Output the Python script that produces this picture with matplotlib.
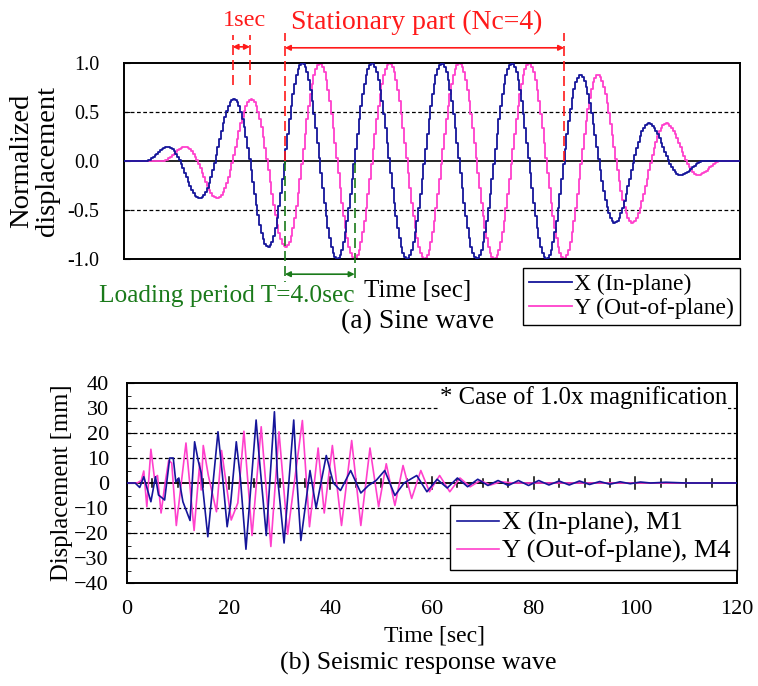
import numpy as np
import matplotlib
matplotlib.use('Agg')
import matplotlib.pyplot as plt

plt.rcParams['font.family'] = ['Liberation Serif', 'DejaVu Serif']

# ---------------- (a) Sine wave parameters ----------------
period = 4.0          # Loading period T [sec]
n_stationary = 4      # Nc
n_taper = 2           # tapered cycles before / after the stationary part
t_start = 1.22        # start of X motion [sec]
lag_y = 1.0           # Y lags X by 1 sec
dt = 0.1              # sampling step
t_axis_end = 35.3
sine_yticks = [-1.0, -0.5, 0.0, 0.5, 1.0]
sine_labels = ['X (In-plane)', 'Y (Out-of-plane)']

# ---------------- (b) Seismic response wave (extrema) ----------------
seis_x_t = [0, 1.6, 2.5, 3.3, 4.7, 5.6, 6.2, 7.4, 8.4, 9.1, 9.6, 10.2, 11.0, 12.4,
            13.3, 14.0, 14.6, 15.9, 17.9, 18.8, 19.7, 20.4, 21.5, 22.3, 23.4, 25.4,
            26.0, 27.4, 29.0, 29.6, 30.9, 32.8, 33.4, 34.2, 36.0, 37.2, 39.2, 40.6,
            42.0, 44.0, 46.0, 47.5, 49.0, 50.7, 52.7, 54.5, 57.0, 59.0, 61.0, 63.0,
            65.0, 67.0, 69.0, 71.0, 73.0, 75.0, 77.0, 79.0, 81.0, 83.0, 85.0, 87.0,
            89.0, 91.0, 93.0, 95.0, 97.0, 99.0, 101.0, 103.0, 106.0, 110.0, 120.0]
seis_x_v = [0, 0, -1.8, 2.5, -7.5, 2.5, -4.8, -6.8, 10, 10, 0.5, 2, -7.5, -15,
            16.5, 9, 4, -21.5, 20.5, 2.5, -17.5, -8, 16.5, 2, -26.5, 25.2,
            10.5, -21, 28.5, 2.5, -24, 25.2, 2, -23, 5, -10, 11, 0,
            -3, 5, -4, -1, 1, 5, -5, 0, 3, -3.5, 1.5, -2,
            2, -1.5, 1.5, -1, 1, -1, 1, -1, 1, -0.8, 0.8, -0.8,
            0.8, -0.6, 0.6, -0.5, 0.5, -0.3, 0.4, 0, 0.3, 0, 0]
seis_y_t = [0, 2.0, 2.8, 3.3, 3.9, 4.7, 5.4, 6.0, 6.7, 7.5, 8.2, 8.8, 9.7, 11.6,
            13.2, 14.3, 14.6, 15.0, 16.0, 17.6, 18.6, 19.5, 20.5, 21.8, 23.0, 24.6,
            26.4, 28.3, 29.9, 31.6, 34.5, 35.9, 37.6, 38.8, 40.4, 42.2, 44.2, 46.0,
            47.8, 49.5, 51.0, 52.7, 54.3, 56.0, 57.8, 59.5, 61.5, 63.5, 65.5, 67.5,
            69.5, 71.5, 73.5, 76.0, 80.0, 120.0]
seis_y_v = [0, 0, 1, 4.8, -9.5, 13.5, 2, 3, -12, 0, 9, 8, -17, 16,
            -19, 8, -2.8, 15, 3, -11.5, 13, 0, -14.8, -8, 20.7, -21,
            22.5, -25.4, 20.5, -20.5, 25, -17.5, 14, -12, 15, -17, 17, -17,
            14, -9.5, 7.7, -9, 7, -6.2, 5, -3.5, 3, -3.5, 2, -1.5,
            1, -0.8, 0.5, 0, 0, 0]
seis_labels = ['X (In-plane), M1', 'Y (Out-of-plane), M4']
seis_xticks = [0, 20, 40, 60, 80, 100, 120]
seis_yticks = [-40, -30, -20, -10, 0, 10, 20, 30, 40]

BLUE = '#15159A'
PINK = '#FF40CC'
RED = '#FF1A1A'
GREEN = '#1A7A1A'

W, H = 758, 686
fig = plt.figure(figsize=(W / 100, H / 100), dpi=100)


def fx(px):
    return px / W


def fy(py):
    return 1 - py / H


# ---------------- top panel ----------------
ax1 = fig.add_axes([fx(124), fy(259), (740 - 124) / W, (259 - 63) / H])
t = np.arange(0, t_axis_end + dt, dt)
tap = n_taper * period
total = (2 * n_taper + n_stationary) * period


def sine_wave(tt, t0):
    s = tt - t0
    env = np.interp(s, [0, tap, total - tap, total], [0, 1, 1, 0], left=0, right=0)
    return env * np.sin(2 * np.pi * s / period)


for yv in sine_yticks:
    if yv == 0:
        ax1.axhline(yv, color='black', lw=1.2, zorder=1)
    elif abs(yv) < 1:
        ax1.axhline(yv, color='black', lw=0.9, ls=(0, (3, 2)), zorder=1)

ax1.plot(t, sine_wave(t, t_start), color=BLUE, lw=1.3, drawstyle='steps-mid',
         label=sine_labels[0], zorder=3)
ax1.plot(t, sine_wave(t, t_start + lag_y), color=PINK, lw=1.3, drawstyle='steps-mid',
         label=sine_labels[1], zorder=2)
ax1.set_xlim(0, t_axis_end)
ax1.set_ylim(-1, 1)
ax1.set_xticks([])
ax1.set_yticks(sine_yticks)
ax1.set_yticklabels([f'{v:.1f}' for v in sine_yticks])
ax1.tick_params(axis='y', direction='in', length=4, labelsize=14.5, pad=18)
for sp in ax1.spines.values():
    sp.set_linewidth(1.4)

# annotations
t_s = t_start + tap
t_e = t_s + n_stationary * period
t_pk = t_start + 5.0
kw_red = dict(color=RED, lw=1.2, ls=(0, (6, 3)), clip_on=False, zorder=5)
ax1.plot([t_pk, t_pk], [0.78, 1.29], **kw_red)
ax1.plot([t_pk + lag_y] * 2, [0.78, 1.29], **kw_red)
ax1.plot([t_s, t_s], [0.0, 1.31], **kw_red)
ax1.plot([t_e, t_e], [0.0, 1.31], **kw_red)
ax1.annotate('', xy=(t_pk, 1.165), xytext=(t_pk + lag_y, 1.165),
             arrowprops=dict(arrowstyle='<|-|>', color=RED, lw=1.2, mutation_scale=8,
                             shrinkA=0, shrinkB=0), annotation_clip=False)
ax1.annotate('', xy=(t_s, 1.155), xytext=(t_e, 1.155),
             arrowprops=dict(arrowstyle='<|-|>', color=RED, lw=1.2, mutation_scale=8,
                             shrinkA=0, shrinkB=0), annotation_clip=False)
ax1.text(fx(244), fy(21), '1sec', color=RED, fontsize=17.5, ha='center', va='center',
         transform=fig.transFigure)
ax1.text(fx(417), fy(22), f'Stationary part (Nc={n_stationary})', color=RED,
         fontsize=20, ha='center', va='center', transform=fig.transFigure)

kw_green = dict(color=GREEN, lw=1.2, ls=(0, (6, 3)), clip_on=False, zorder=5)
ax1.plot([t_s, t_s], [0.0, -1.235], **kw_green)
ax1.plot([t_s + period] * 2, [-0.02, -1.235], **kw_green)
ax1.annotate('', xy=(t_s, -1.155), xytext=(t_s + period, -1.155),
             arrowprops=dict(arrowstyle='<|-|>', color=GREEN, lw=1.2, mutation_scale=8,
                             shrinkA=0, shrinkB=0), annotation_clip=False)
ax1.text(fx(355), fy(296), f'Loading period T={period:.1f}sec', color=GREEN,
         fontsize=18.3, ha='right', va='center', transform=fig.transFigure)

fig.text(fx(35), fy(161), 'Normalized\ndisplacement', rotation=90, ha='center',
         va='center', fontsize=20.5, multialignment='center', linespacing=1.05)
fig.text(fx(418), fy(291), 'Time [sec]', ha='center', va='center', fontsize=18)
fig.text(fx(418), fy(322), '(a) Sine wave', ha='center', va='center', fontsize=20)

leg1 = ax1.legend(loc='upper right', bbox_to_anchor=(fx(740), fy(268)),
                  bbox_transform=fig.transFigure, fontsize=17, frameon=True,
                  fancybox=False, edgecolor='black', framealpha=1,
                  handlelength=1.8, handletextpad=0.1, labelspacing=0.1,
                  borderpad=0.25, borderaxespad=0)
leg1.get_frame().set_linewidth(1.0)

# ---------------- bottom panel ----------------
ax2 = fig.add_axes([fx(127), fy(583), (737 - 127) / W, (583 - 383) / H])
for yv in seis_yticks:
    if yv == 0:
        continue
    if abs(yv) < 40:
        ax2.axhline(yv, color='black', lw=0.9, ls=(0, (3, 2)), zorder=1)
ax2.axhline(0, color='black', lw=1.3, zorder=1)
# ticks crossing the zero line
minor_step = 5
for xv in np.arange(seis_xticks[0], seis_xticks[-1] + 0.1, minor_step):
    h = 2.4 if xv % 20 == 0 else 1.6
    ax2.plot([xv, xv], [-h, h], color='black', lw=1.1, zorder=1)

ax2.plot(seis_x_t, seis_x_v, color=BLUE, lw=1.2, label=seis_labels[0], zorder=3)
ax2.plot(seis_y_t, seis_y_v, color=PINK, lw=1.2, label=seis_labels[1], zorder=2)
ax2.set_xlim(seis_xticks[0], seis_xticks[-1])
ax2.set_ylim(seis_yticks[0], seis_yticks[-1])
ax2.set_xticks(seis_xticks)
ax2.set_yticks(seis_yticks)
ax2.set_yticks(np.arange(-35, 40, 10), minor=True)
ax2.tick_params(axis='y', which='both', direction='in', labelsize=16, pad=13)
ax2.tick_params(axis='y', which='major', length=5)
ax2.tick_params(axis='y', which='minor', length=3)
ax2.tick_params(axis='x', length=0, labelsize=16, pad=12)
for sp in ax2.spines.values():
    sp.set_linewidth(1.4)

ax2.text(fx(727), fy(398), '* Case of 1.0x magnification', transform=fig.transFigure,
         ha='right', va='center', fontsize=17.8,
         bbox=dict(facecolor='white', edgecolor='none', pad=0.5))

leg2 = ax2.legend(loc='upper right', bbox_to_anchor=(fx(737), fy(505)),
                  bbox_transform=fig.transFigure, fontsize=19, frameon=True,
                  fancybox=False, edgecolor='black', framealpha=1,
                  handlelength=1.6, handletextpad=0.1, labelspacing=0.15,
                  borderpad=0.25, borderaxespad=0)
leg2.get_frame().set_linewidth(1.0)

fig.text(fx(62), fy(483), 'Displacement [mm]', rotation=90, ha='center',
         va='center', fontsize=17.7)
fig.text(fx(434), fy(636), 'Time [sec]', ha='center', va='center', fontsize=17)
fig.text(fx(418), fy(663), '(b) Seismic response wave', ha='center', va='center',
         fontsize=18.6)

fig.savefig('out.png', dpi=100)
